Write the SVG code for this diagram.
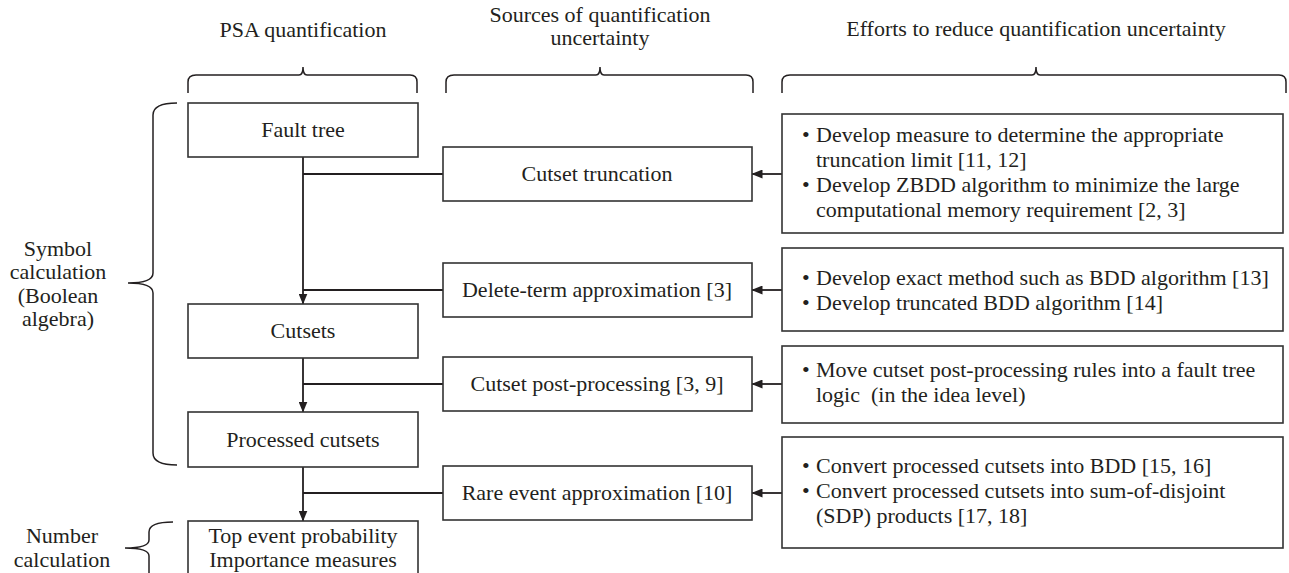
<svg xmlns="http://www.w3.org/2000/svg" width="1289" height="573" viewBox="0 0 1289 573" font-family="'Liberation Serif', 'Times New Roman', serif" font-size="22">
<defs>
<style>
text{font-family:'Liberation Serif','Times New Roman',serif;font-size:22px;fill:#231f20}
.c{text-anchor:middle}
.box{fill:#fff;stroke:#333;stroke-width:1.6}
.ln{fill:none;stroke:#231f20;stroke-width:1.8}
.br{fill:none;stroke:#231f20;stroke-width:1.5}
</style>
<marker id="ah" markerWidth="11" markerHeight="9" refX="10.5" refY="4.5" orient="auto" markerUnits="userSpaceOnUse">
<path d="M0,0 L11,4.5 L0,9 z" fill="#231f20"/>
</marker>
</defs>
<rect width="1289" height="573" fill="#fff"/>

<g id="headers">
<text class="c" x="303" y="37">PSA quantification</text>
<text class="c" x="600" y="22">Sources of quantification</text>
<text class="c" x="600" y="45">uncertainty</text>
<text class="c" x="1036" y="36">Efforts to reduce quantification uncertainty</text>
</g>

<g id="braces">
<path class="br" d="M188,93 L188,82 Q188,75 196,75 L299,75 Q303,75 303,67 Q303,75 307,75 L410,75 Q417,75 417,82 L417,93"/>
<path class="br" d="M446,93 L446,82 Q446,75 454,75 L596,75 Q600,75 600,67 Q600,75 604,75 L746,75 Q753,75 753,82 L753,93"/>
<path class="br" d="M782,93 L782,82 Q782,75 790,75 L1032,75 Q1036,75 1036,67 Q1036,75 1040,75 L1279,75 Q1286,75 1286,82 L1286,93"/>
<path class="br" d="M177,103 Q153,103 153,115 L153,273 Q153,283 128,283 Q153,283 153,293 L153,453 Q153,465 177,465"/>
<path class="br" d="M173,522 Q149,522 149,532 L149,540 Q149,548 125,548 Q149,548 149,556 L149,573"/>
</g>

<g id="side-labels">
<text class="c" x="58" y="256">Symbol</text>
<text class="c" x="58" y="279">calculation</text>
<text class="c" x="58" y="303">(Boolean</text>
<text class="c" x="58" y="326">algebra)</text>
<text class="c" x="62" y="543">Number</text>
<text class="c" x="62" y="567">calculation</text>
</g>

<g id="connectors">
<line class="ln" x1="303" y1="157" x2="303" y2="304" marker-end="url(#ah)"/>
<line class="ln" x1="303" y1="358" x2="303" y2="412" marker-end="url(#ah)"/>
<line class="ln" x1="303" y1="467" x2="303" y2="521" marker-end="url(#ah)"/>
<line class="ln" x1="303" y1="174" x2="443" y2="174"/>
<line class="ln" x1="303" y1="290" x2="443" y2="290"/>
<line class="ln" x1="303" y1="384" x2="443" y2="384"/>
<line class="ln" x1="303" y1="493" x2="443" y2="493"/>
<line class="ln" x1="782" y1="174" x2="752" y2="174" marker-end="url(#ah)"/>
<line class="ln" x1="782" y1="290" x2="752" y2="290" marker-end="url(#ah)"/>
<line class="ln" x1="782" y1="384" x2="752" y2="384" marker-end="url(#ah)"/>
<line class="ln" x1="782" y1="493" x2="752" y2="493" marker-end="url(#ah)"/>
</g>

<g id="fault-tree">
<rect class="box" x="188" y="103" width="230" height="54"/>
<text class="c" x="303" y="137">Fault tree</text>
</g>
<g id="cutsets">
<rect class="box" x="188" y="304" width="230" height="54"/>
<text class="c" x="303" y="338">Cutsets</text>
</g>
<g id="processed-cutsets">
<rect class="box" x="188" y="412" width="230" height="55"/>
<text class="c" x="303" y="447">Processed cutsets</text>
</g>
<g id="top-event">
<rect class="box" x="188" y="521" width="230" height="60"/>
<text class="c" x="303" y="543">Top event probability</text>
<text class="c" x="303" y="567">Importance measures</text>
</g>

<g id="cutset-truncation">
<rect class="box" x="443" y="147" width="309" height="54"/>
<text class="c" x="597" y="181">Cutset truncation</text>
</g>
<g id="delete-term">
<rect class="box" x="443" y="263" width="309" height="54"/>
<text class="c" x="597" y="297">Delete-term approximation [3]</text>
</g>
<g id="post-processing">
<rect class="box" x="443" y="357" width="309" height="54"/>
<text class="c" x="597" y="391">Cutset post-processing [3, 9]</text>
</g>
<g id="rare-event">
<rect class="box" x="443" y="466" width="309" height="54"/>
<text class="c" x="597" y="500">Rare event approximation [10]</text>
</g>

<g id="effort-truncation">
<rect class="box" x="782" y="114" width="501" height="119"/>
<text x="802" y="142">•</text><text x="816" y="142">Develop measure to determine the appropriate</text>
<text x="816" y="167">truncation limit [11, 12]</text>
<text x="802" y="192">•</text><text x="816" y="192">Develop ZBDD algorithm to minimize the large</text>
<text x="816" y="217">computational memory requirement [2, 3]</text>
</g>
<g id="effort-delete-term">
<rect class="box" x="782" y="248" width="501" height="83"/>
<text x="802" y="285">•</text><text x="816" y="285">Develop exact method such as BDD algorithm [13]</text>
<text x="802" y="310">•</text><text x="816" y="310">Develop truncated BDD algorithm [14]</text>
</g>
<g id="effort-post-processing">
<rect class="box" x="782" y="346" width="501" height="77"/>
<text x="802" y="377">•</text><text x="816" y="377">Move cutset post-processing rules into a fault tree</text>
<text x="816" y="402" xml:space="preserve" style="white-space:pre">logic  (in the idea level)</text>
</g>
<g id="effort-rare-event">
<rect class="box" x="782" y="437" width="501" height="111"/>
<text x="802" y="473">•</text><text x="816" y="473">Convert processed cutsets into BDD [15, 16]</text>
<text x="802" y="498">•</text><text x="816" y="498">Convert processed cutsets into sum-of-disjoint</text>
<text x="816" y="523">(SDP) products [17, 18]</text>
</g>
</svg>
